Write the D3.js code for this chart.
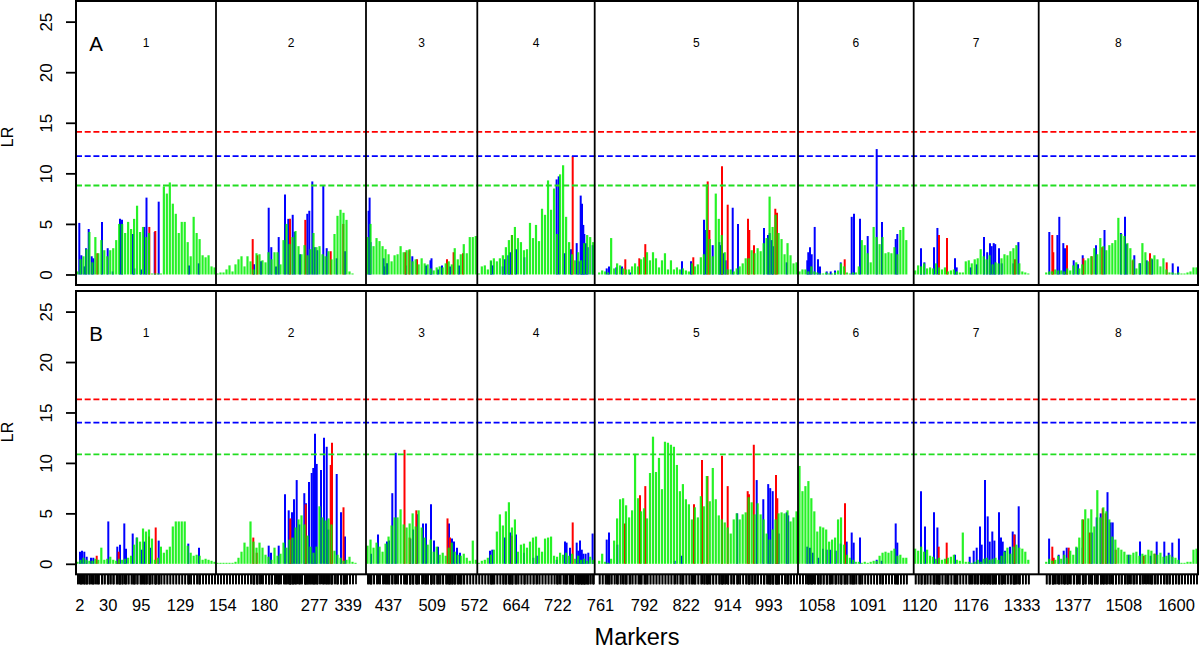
<!DOCTYPE html>
<html>
<head>
<meta charset="utf-8">
<title>LR profiles</title>
<script src="https://cdn.jsdelivr.net/npm/d3@7"></script>
<style>
  body { margin: 0; background: #ffffff; }
  svg { font-family: "Liberation Sans", Arial, Helvetica, sans-serif; }
</style>
</head>
<body>
<script>
// ---------------- data ----------------
var chromNames = ["1", "2", "3", "4", "5", "6", "7", "8"];
var chromLengths = [140, 150, 111.3, 117.4, 203.3, 115.7, 125, 159.3];

// thresholds [red, blue, green]
var thresholdsA = [14.1, 11.7, 8.8];
var thresholdsB = [16.3, 14.0, 10.85];

// green LR, consecutive markers along each chromosome
var greenA = [
  [0.3,1.5,1.8,2.5,4.2,1.2,3.7,2.1,3.4,2.4,1.8,2.4,2.6,3.4,5.0,5.0,4.1,5.2,4.5,5.5,6.8,4.2,4.7,3.7,4.1,0.1,0.1,0.1,0.1,8.7,8.0,9.1,7.0,6.0,4.1,5.2,5.2,3.2,1.8,5.7,4.1,3.5,1.9,1.7,1.9,0.8,0.7],
  [0.1,0.2,0.2,0.5,0.9,0.3,1.0,1.5,1.8,0.8,1.8,1.3,0.5,2.1,2.0,1.4,1.2,2.2,1.5,2.2,2.2,1.0,3.4,5.0,3.0,3.7,4.3,2.8,2.0,2.9,1.9,2.5,4.1,2.7,2.8,2.0,1.8,2.3,1.5,4.0,5.8,6.4,6.1,5.4,0.3,0.1,0,0,0,0],
  [3.7,5.0,2.8,3.6,3.3,2.8,2.5,2.0,1.3,1.9,2.0,2.8,2.2,2.4,2.5,1.3,1.5,1.0,1.6,1.1,1.0,0.6,0.4,0.7,0.8,0.7,1.1,1.3,1.0,2.6,1.5,2.0,3.0,2.1,3.7,3.7,3.8],
  [0.1,0.8,0.9,0.5,1.4,1.6,1.3,1.6,1.9,2.7,3.4,3.9,4.7,3.6,3.2,2.4,2.5,5.1,3.6,4.9,3.3,6.5,5.9,9.3,6.4,8.5,4.0,9.9,10.8,5.7,3.2,2.0,1.4,2.2,1.4,3.1,3.9,3.7,3.2],
  [0,0.2,0.4,0.3,0.2,3.6,0.6,1.1,0.9,0.6,0.5,0.5,0.8,1.1,0.8,1.5,1.7,2.2,1.4,2.2,1.6,0.7,1.4,2.1,0.5,1.4,0.5,0.7,0.5,0.6,0.4,0.3,1.1,0.8,1.0,1.7,2.0,8.9,3.5,1.8,8.0,5.5,3.9,2.2,0.5,0.5,0.3,0.6,0.8,1.1,1.6,1.6,2.4,2.1,2.6,2.3,3.1,3.6,7.7,4.7,5.9,4.1,3.5,2.0,3.1,1.9,1.1,1.2],
  [0.3,0.5,0.5,0.3,0.8,0.3,0.2,0.1,0.1,0.2,0.1,0.1,0.2,0.4,1.1,0.8,0.2,0.1,0.2,0.2,0.8,3.4,2.9,2.1,1.2,4.7,3.7,3.0,3.7,2.1,2.2,2.1,2.7,2.0,4.4,4.7,3.4,0,0],
  [0.4,0.9,0.8,1.1,0.6,0.7,0.6,1.1,0.7,0.5,0.7,0.3,0.4,0.5,0.3,0.2,0.2,1.3,1.4,1.1,1.5,1.6,2.5,1.8,1.5,1.9,1.0,1.2,1.1,1.6,2.0,1.9,2.3,2.6,2.9,1.1,0.3,0.2,0.1,0,0,0],
  [0,0,0.2,0.3,0.3,0.5,0.4,0.4,0.3,0.6,0.4,0.9,1.2,0.6,1.0,1.4,1.6,1.8,2.6,2.0,3.6,2.8,2.4,2.9,3.1,3.4,5.6,4.0,3.8,3.1,2.6,1.5,0.6,1.1,3.1,2.2,1.3,1.6,1.9,1.5,0.8,1.6,0.5,0.2,0.2,0.1,0.2,0.1,0.1,0.2,0.3,0.7,0.7]
];

// blue / red LR as [cM within chromosome, LR]
var blueA = [
  [[3.3,5.1],[5.3,1.9],[8.3,0.8],[10,2.6],[12.7,4.5],[15.7,1.8],[17.3,1.6],[26,5.2],[31.7,2.6],[36.7,0.3],[44,5.5],[46,5.4],[57,4.0],[58.3,0.6],[65,0.5],[68.3,4.7],[70.5,7.6],[78.7,4.2],[82.7,7.2],[113,0.9],[122.7,1.1]],
  [[38,1.0],[45,1.3],[52.7,6.6],[55.3,2.7],[60,0.8],[62.7,3.7],[69,7.9],[72.3,5.5],[76.7,5.9],[78.7,4.2],[84,2.0],[91.3,6.0],[93.3,6.3],[96.3,9.2],[98.7,2.7],[101.3,2.4],[107.3,8.8],[110.7,2.6],[120.7,1.6],[129,2.3]],
  [[2.6,6.3],[3.6,7.6],[4.6,3.2],[17.6,1.6],[18.6,0.8],[21,1.1],[40,0.9],[46.3,1.8],[60,0.9],[64.5,1.4],[65.5,1.6],[72,0.5],[76,0.9],[84,0.8],[93,0.9]],
  [[13.7,1.3],[15.3,0.9],[25.4,0.8],[27.7,1.5],[31,1.9],[32.7,2.2],[38.7,2.5],[47,1.7],[79.3,9.4],[81.4,9.7],[87.4,2.1],[93.7,2.5],[99.4,3.1],[101.4,1.3],[103.4,7.8],[104.7,7.0],[106,4.9],[107,4.0],[108.7,3.1],[110.4,2.7],[115.4,2.9]],
  [[12,0.6],[14.3,0.8],[21.6,0.7],[27.3,0.8],[35.3,0.2],[87.3,1.3],[96.3,1.3],[109.3,5.4],[111,4.4],[118,2.9],[124.6,3.2],[126,2.9],[128.6,2.1],[131,1.4],[138,6.6],[143.3,5.0],[169.3,4.6],[173.3,3.9],[175,4.1],[177,3.4],[178.3,2.8],[192,1.2]],
  [[9.3,1.4],[10.3,2.2],[12,2.7],[13.7,2.0],[16.7,4.7],[20,1.5],[22,0.8],[28.7,0.3],[32.7,0.3],[37,0.4],[42.7,1.2],[53.7,5.7],[56,6.0],[62,5.5],[69.7,3.8],[78.7,12.4],[84,5.2],[97.7,3.5],[99.3,4.0]],
  [[7.3,2.6],[10.7,1.2],[20.3,2.7],[23.7,4.6],[41.3,1.6],[43,0.7],[57,0.7],[63,1.0],[70.3,3.7],[73.5,2.2],[76.3,3.1],[78,2.8],[80,3.1],[81.5,3.0],[85.3,2.6],[88,1.1],[99.7,1.1],[104.7,3.2]],
  [[10.6,4.2],[18.7,3.9],[20.6,5.7],[24.6,3.1],[26.3,2.6],[35,1.4],[39.3,1.0],[44,1.9],[57.3,2.9],[65.8,4.4],[82.2,4.1],[86.3,5.7],[88,3.0],[95.6,1.9],[101.3,1.1],[108,1.4],[113.3,1.5],[134,1.1],[139.3,0.8]]
];
var redA = [
  [[21.3,2.1],[73.3,4.7],[79.3,4.3]],
  [[36.7,3.5],[41.3,1.9],[74,5.5],[89.3,5.4],[114.7,2.3],[127.3,5.0]],
  [[39.3,2.2],[43.3,2.4],[51,1.5],[81,1.5],[87.6,2.2],[97,2.1]],
  [[34.7,3.9],[95.4,11.7]],
  [[30.6,1.5],[44.6,1.6],[50.6,3.0],[98.6,1.7],[113,9.2],[114.7,4.4],[127.3,10.7],[133,6.9],[153.3,5.5],[154.6,4.4],[159.3,2.9],[180.6,6.5],[182.3,6.1]],
  [[46.7,1.5]],
  [[25.3,3.9],[33.3,3.6],[101.3,1.5]],
  [[13.6,3.9],[14.6,2.2],[28.3,2.9],[44.7,1.6],[53,1.8],[63.5,2.7],[94,1.4],[111.3,2.1],[128,1.2]]
];

var greenB = [
  [0.2,0.4,0.6,0.4,0.3,0.3,0.5,0.4,1.6,0.4,0.5,0.7,0.4,0.3,0.5,0.4,0.5,0.6,0.8,1.9,2.6,2.2,3.5,3.2,3.4,2.5,0.4,0.6,1.7,1.1,1.4,1.7,3.7,4.2,4.2,4.2,4.2,1.8,1.1,0.8,0.9,0.8,0.4,0.5,0.4,0.3,0.2],
  [0.1,0.1,0.1,0.1,0.1,0.1,0.2,0.6,1.2,2.1,1.7,4.2,2.2,1.6,2.1,1.6,0.9,0.7,0.4,1.6,0.8,1.0,2.1,1.6,2.4,2.6,3.6,4.4,4.8,3.9,2.8,1.7,1.1,1.7,5.7,4.6,4.3,4.5,3.9,1.3,0.9,0.6,0.3,0.4,0.7,0.2,0.1,0,0,0],
  [1.8,2.4,1.6,2.1,1.7,1.2,2.0,2.7,3.8,4.6,4.6,5.4,3.9,3.6,4.0,5.0,3.7,5.3,3.6,2.6,1.9,2.4,1.2,1.7,0.9,1.1,0.8,1.6,2.1,1.2,0.9,0.8,1.0,0.6,0.3,2.3,0.4],
  [0.1,0.3,0.4,0.6,0.9,1.4,3.2,4.9,3.8,5.2,6.1,3.6,4.4,1.2,1.9,2.0,1.6,2.2,2.6,2.7,1.6,1.2,2.5,2.6,2.7,0.8,0.7,1.1,0.9,1.1,0.8,1.0,0.5,0.8,0.4,0.5,0.3,0.7,0.4],
  [0,0.3,1.0,0.2,0.1,0.5,2.3,4.5,6.4,6.5,5.8,4.6,5.3,10.9,6.5,5.2,5.5,4.5,9.0,12.6,9.1,10.5,7.4,12.1,12.0,11.8,11.6,9.8,7.2,7.9,6.4,5.9,4.4,5.6,4.6,6.7,5.7,8.7,6.2,9.5,6.4,4.8,4.4,4.1,3.6,3.0,4.4,5.0,4.4,4.9,5.1,6.6,6.1,4.9,6.0,4.9,4.4,3.0,2.4,3.4,4.4,5.0,5.1,5.0,5.3,4.2,4.6,5.2],
  [9.7,7.2,7.7,8.2,6.5,5.2,3.2,3.7,3.6,3.4,2.2,2.4,2.6,4.4,4.6,1.9,0.9,0.6,0.4,0.2,0.2,0.1,0.2,0.1,0.2,0.3,0.3,0.8,1.1,1.2,1.1,1.3,1.5,0.8,0.9,0.6,0.6,0,0],
  [1.5,1.3,1.7,1.2,1.4,0.8,0.7,0.5,0.6,0.4,0.5,0.6,0.7,0.9,0.4,0.3,3.1,0.2,0.2,0.1,0.2,0.4,0.2,0.5,0.6,0.4,0.5,0.6,0.4,0.8,1.2,1.6,1.0,1.7,1.9,1.6,1.5,1.2,0.4,0,0,0],
  [0,0,0.2,0.5,0.3,0.4,0.8,0.5,0.9,0.6,1.3,0.9,1.7,2.6,4.4,5.4,4.5,5.4,3.7,7.3,4.6,5.6,5.2,4.4,2.7,2.4,1.6,1.4,1.2,0.9,0.9,1.1,1.2,0.8,1.0,0.9,1.4,1.3,1.0,0.9,1.1,0.7,0.8,0.9,0.7,0.6,0.4,0.1,0.1,0.2,0.2,1.4,1.5]
];
var blueB = [
  [[4,1.2],[6,1.3],[8.3,1.2],[10.7,0.7],[15,0.6],[17.3,0.6],[32.3,4.2],[41.3,1.7],[44,1.9],[48.3,4.0],[50,1.5],[56.7,3.0],[60.7,2.6],[65.7,1.4],[68.3,2.2],[74,1.6],[82.7,2.3],[112.3,2.0],[123,1.6]],
  [[52.7,1.8],[55,1.1],[62.7,1.8],[69,6.9],[72.7,5.3],[74,4.4],[76,5.1],[78,6.4],[80.7,8.3],[83.3,3.9],[88.3,7.0],[90,6.0],[93,8.1],[95.7,9.0],[97.3,9.5],[99,12.9],[100.7,9.9],[105,9.3],[108,12.5],[110.7,11.6],[112.3,3.4],[120.7,8.9],[125,5.1],[129,2.7]],
  [[5,1.0],[12,2.9],[21,2.2],[23,2.3],[26.3,7.0],[29.7,11.0],[44.3,2.5],[47,3.4],[51,4.9],[57,4.0],[60,4.0],[65,5.9],[68,2.3],[72,1.7],[83,4.0],[86,2.5],[88,2.2],[91,1.6],[94,1.1]],
  [[12.7,1.3],[15,1.4],[27.7,2.6],[32.7,3.1],[38.7,2.9],[46.7,1.1],[56,0.6],[59.5,0.8],[79.5,0.4],[87.7,2.2],[89.3,2.1],[92.7,1.6],[99.4,2.1],[101,1.3],[102.7,2.3],[104.5,1.4],[106,1.0],[108.3,1.0],[111,1.1],[115.3,3.0]],
  [[12,2.4],[14.3,3.1],[22.6,1.9],[80,0.3],[87,0.8],[142.5,5.0],[162,8.3],[168.6,6.4],[173.5,7.9],[175.5,7.5],[178,7.2],[182,6.4],[184,3.0],[192,5.1],[193.5,4.8]],
  [[9.3,1.7],[12,1.6],[14.7,1.1],[20.3,0.6],[25,1.5],[28.7,1.4],[32,1.4],[37.7,1.3],[42.7,2.0],[48.7,2.2],[53.7,3.1],[55.7,2.1],[62,2.6],[78.7,0.4],[83.7,0.3],[97.7,4.0],[99.3,2.1]],
  [[7.3,7.2],[11.3,3.7],[20.3,5.1],[23.7,3.6],[41.3,0.9],[56,0.7],[60,1.3],[63,1.6],[66.3,3.7],[68,1.9],[71.3,8.3],[74,4.7],[76,2.2],[78.6,3.2],[80.7,2.3],[85.3,5.1],[87.3,2.6],[89,2.2],[91.3,1.3],[96.3,1.7],[99,3.2],[101,2.9],[105,5.7]],
  [[10.4,2.5],[20,0.9],[25,1.3],[28,1.6],[38,1.6],[44,1.6],[53,3.1],[58,4.6],[62,5.0],[68.8,7.1],[72,4.1],[74,4.1],[90,0.9],[101.3,2.2],[112,0.8],[118,2.2],[125.6,2.2],[130,1.1],[133.6,2.1],[140.2,2.5]]
];
var redB = [
  [[20.7,0.8],[42.7,1.2],[73,2.7],[79.7,3.6]],
  [[37.3,2.6],[40.7,1.1],[74.3,4.5],[89.7,5.9],[114.7,9.8],[116,12.0],[127.5,5.6]],
  [[38.5,11.3],[43.6,2.6],[50.3,5.3],[81.5,4.5],[84,2.6]],
  [[34.5,2.8],[95.4,4.1]],
  [[30.3,4.0],[45.3,6.8],[50.6,7.7],[99.3,5.9],[107.3,10.3],[112.8,8.7],[127.3,10.7],[133,7.7],[153,7.2],[154.3,6.9],[159.1,11.8],[181.3,8.8],[182.6,6.5]],
  [[47,6.0]],
  [[25,1.7],[33,2.1],[100.6,2.9]],
  [[13.6,1.7],[15,0.6],[30,1.6],[44.3,4.4],[51,3.1],[64,5.5],[67,5.0],[77,1.4],[105,0.8],[116,1.0]]
];

// marker names shown under the axis, at map position (cM, genome-wide)
var tickLabels = ["2","30","95","129","154","180","277","339","437","509","572","664","722","761","792","822","914","993","1058","1091","1120","1176","1333","1377","1508","1600"];
var tickPositions = [3.3,31.7,64.7,104,146.3,188,238,271.7,312,355.7,398,439.7,481.3,524,568,609.7,651.3,692.3,740.7,791.7,843.3,894.7,945.7,996.7,1047.3,1100];

var yTicks = [0, 5, 10, 15, 20, 25];

// ---------------- layout ----------------
var width = 1200, height = 650;
var plotLeft = 76, plotRight = 1198;
var colBlue = "#0000ff", colRed = "#ff0000", colGreen = "#00f000";

var svg = d3.select("body").append("svg")
            .attr("width", width)
            .attr("height", height);

var chromStart = [];
var total = 0;
chromLengths.forEach(function(l) { chromStart.push(total); total += l; });

var x = d3.scaleLinear().domain([0, total]).range([plotLeft, plotRight]);

var panels = [
  {label: "A", top: 1,   bottom: 285,   green: greenA, blue: blueA, red: redA, thr: thresholdsA, lrY: 137},
  {label: "B", top: 291, bottom: 574.3, green: greenB, blue: blueB, red: redB, thr: thresholdsB, lrY: 432}
];

function greenPoints(list) {
  var pts = [];
  list.forEach(function(vals, c) {
    var step = chromLengths[c] / vals.length;
    vals.forEach(function(v, i) {
      pts.push({pos: chromStart[c] + (i + 0.5) * step, val: v});
    });
  });
  return pts;
}
function pairPoints(list) {
  var pts = [];
  list.forEach(function(pairs, c) {
    pairs.forEach(function(p) { pts.push({pos: chromStart[c] + p[0], val: p[1]}); });
  });
  return pts;
}

var markerPositions = [];

panels.forEach(function(p) {
  var y = d3.scaleLinear().domain([-1.04, 27.04]).range([p.bottom, p.top]);
  var g = svg.append("g");

  var blues = pairPoints(p.blue), reds = pairPoints(p.red), greens = greenPoints(p.green);
  blues.concat(reds).concat(greens.filter(function(d) { return d.val > 0; }))
       .forEach(function(d) { markerPositions.push(d.pos); });

  function bars(data, color, w, op) {
    g.append("g").selectAll("line")
      .data(data)
      .join("line")
      .attr("x1", function(d) { return x(d.pos); })
      .attr("x2", function(d) { return x(d.pos); })
      .attr("y1", y(0))
      .attr("y2", function(d) { return y(d.val); })
      .attr("stroke", color)
      .attr("stroke-width", w)
      .attr("stroke-opacity", op);
  }
  bars(blues, colBlue, 2, 1);
  bars(reds, colRed, 2, 1);
  bars(greens, colGreen, 2.2, 0.85);

  // thresholds
  [colRed, colBlue, "#22dd22"].forEach(function(col, i) {
    g.append("line")
      .attr("x1", plotLeft).attr("x2", plotRight)
      .attr("y1", y(p.thr[i])).attr("y2", y(p.thr[i]))
      .attr("stroke", col)
      .attr("stroke-width", 1.8)
      .attr("stroke-dasharray", "6,2.7");
  });

  // chromosome separators
  chromStart.slice(1).forEach(function(s) {
    g.append("line")
      .attr("x1", x(s)).attr("x2", x(s))
      .attr("y1", p.top).attr("y2", p.bottom)
      .attr("stroke", "#000").attr("stroke-width", 1.8);
  });

  // box
  g.append("rect")
    .attr("x", plotLeft).attr("y", p.top)
    .attr("width", plotRight - plotLeft).attr("height", p.bottom - p.top)
    .attr("fill", "none").attr("stroke", "#000").attr("stroke-width", 2);

  // chromosome numbers
  g.selectAll(".chr")
    .data(chromNames)
    .join("text")
    .attr("class", "chr")
    .attr("x", function(d, i) { return x(chromStart[i] + chromLengths[i] / 2); })
    .attr("y", p.top + 46)
    .attr("text-anchor", "middle")
    .attr("font-size", 12)
    .text(function(d) { return d; });

  g.append("text")
    .attr("x", 96).attr("y", p.top + 49.7)
    .attr("text-anchor", "middle")
    .attr("font-size", 20.5)
    .text(p.label);

  // y axis
  var ax = g.append("g")
    .attr("transform", "translate(" + plotLeft + ",0)")
    .call(d3.axisLeft(y).tickValues(yTicks).tickSize(10).tickFormat(d3.format("d")));
  ax.select(".domain").remove();
  ax.selectAll(".tick line").attr("stroke-width", 1.8);
  ax.selectAll(".tick text")
    .attr("x", 0).attr("y", 0).attr("dy", "0.35em")
    .attr("text-anchor", "middle")
    .attr("transform", "translate(-30,0) rotate(-90)")
    .attr("font-size", 17)
    .attr("font-family", null)
    .attr("fill", "#000");

  g.append("text")
    .attr("transform", "translate(13," + p.lrY + ") rotate(-90)")
    .attr("text-anchor", "middle")
    .attr("font-size", 16)
    .text("LR");
});

// bottom axis: one tick per marker, names below
var bottom = panels[1].bottom;
var rug = svg.append("g")
  .attr("transform", "translate(0," + bottom + ")")
  .call(d3.axisBottom(x).tickValues(markerPositions).tickSize(10).tickFormat(""));
rug.select(".domain").remove();
rug.selectAll(".tick line").attr("stroke-width", 1.7);

var names = svg.append("g")
  .attr("transform", "translate(0," + bottom + ")")
  .call(d3.axisBottom(x).tickValues(tickPositions).tickSize(0)
          .tickFormat(function(d, i) { return tickLabels[i]; }));
names.select(".domain").remove();
names.selectAll(".tick text")
  .attr("y", 36.7).attr("dy", 0)
  .attr("font-size", 16.5)
  .attr("font-family", null)
  .attr("fill", "#000");

svg.append("text")
  .attr("x", (plotLeft + plotRight) / 2)
  .attr("y", 645)
  .attr("text-anchor", "middle")
  .attr("font-size", 23.5)
  .text("Markers");
</script>
</body>
</html>
